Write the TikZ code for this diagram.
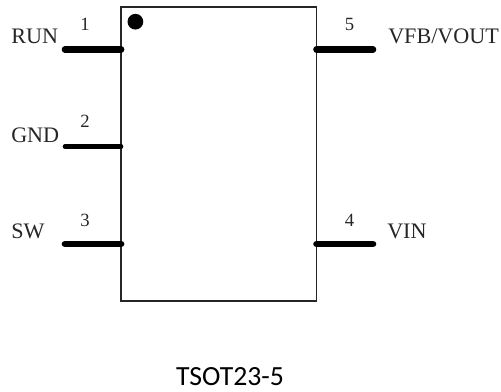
\documentclass[tikz,border=0pt]{standalone}
\usepackage{fontspec}
\setmainfont{Liberation Serif}
\newfontfamily\captionfont{Carlito}
\usetikzlibrary{positioning}

\begin{document}
\begin{tikzpicture}[x=0.75pt,y=-0.75pt]
      \tikzset{
        chip/.style={rectangle, draw=black!85, line width=0.9pt, inner sep=0pt, outer sep=0pt,
                     minimum width=146.6pt, minimum height=220.5pt},
        pinwire/.style={line cap=round, line width=5pt, black},
        thinwire/.style={line cap=round, line width=3.4pt, black},
        pinname/.style={inner sep=0pt, font=\fontsize{16.6}{17}\selectfont, text=black!85},
        pinnum/.style={inner sep=0pt, font=\fontsize{14}{14}\selectfont, text=black!85}
      }
      \useasboundingbox (0,0) rectangle (501,392);

      \node[chip] (chip) at (218.8,154) {};
      \fill (135.4,21.7) circle (5.9pt);

      % pin ends on the left
      \coordinate (run) at (65,49.5);
      \coordinate (gnd) at (65,146.5);
      \coordinate (sw)  at (65,244);
      % pin ends on the right
      \coordinate (vfb) at (373,49.5);
      \coordinate (vin) at (373,244);

      \draw[pinwire]  (run) -- (run -| chip.west);
      \draw[thinwire] (gnd) -- (gnd -| chip.west);
      \draw[pinwire]  (sw)  -- (sw -| chip.west);
      \draw[pinwire]  (vfb) -- (vfb -| chip.east);
      \draw[pinwire]  (vin) -- (vin -| chip.east);

      \node[pinname, anchor=base west] (runlabel) at (11,44) {RUN};
      \node[pinname, anchor=base west] (gndlabel) at (11,142.5) {GND};
      \node[pinname, anchor=base west] (swlabel)  at (11,239) {SW};
      \node[pinname, anchor=base west] (vfblabel) at (388,44) {VFB/VOUT};
      \node[pinname, anchor=base west] (vinlabel) at (387,239) {VIN};

      \node[pinnum, anchor=base] (num1) at (85,31) {1};
      \node[pinnum, anchor=base] (num2) at (85,128) {2};
      \node[pinnum, anchor=base] (num3) at (85,226.5) {3};
      \node[pinnum, anchor=base] (num5) at (349.5,31) {5};
      \node[pinnum, anchor=base] (num4) at (349.5,226.5) {4};

      \node[inner sep=0pt, anchor=base, font=\captionfont\fontsize{20.8}{21}\selectfont] (title) at (230,386) {TSOT23-5};

    \end{tikzpicture}
\end{document}
